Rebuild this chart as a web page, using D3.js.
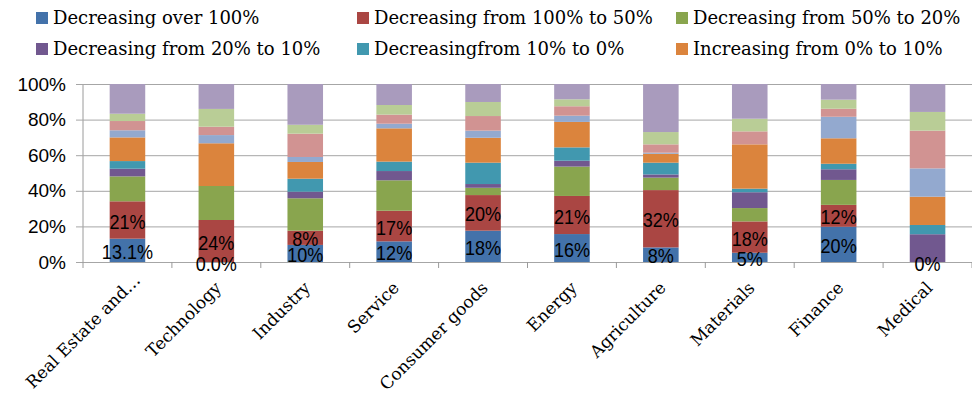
<!DOCTYPE html>
<html>
<head>
<meta charset="utf-8">
<script src="https://cdn.jsdelivr.net/npm/d3@7"></script>
<style>
  body { margin: 0; background: #fff; }
  svg { display: block; }
</style>
</head>
<body>
<div id="chart"></div>
<script>
const width = 972;
const height = 396;

const categories = ["Real Estate and\u2026", "Technology", "Industry", "Service", "Consumer goods",
    "Energy", "Agriculture", "Materials", "Finance", "Medical"];

const seriesNames = [
    "Decreasing over 100%",
    "Decreasing from 100% to 50%",
    "Decreasing from 50% to 20%",
    "Decreasing from 20% to 10%",
    "Decreasingfrom 10% to 0%",
    "Increasing from  0% to 10%",
    "Increasing from 10% to 20%",
    "Increasing from 20% to 50%",
    "Increasing from 50% to 100%",
    "Increasing over 100%"
];

// one array per series, one value per category (percent of companies)
const decOver100 = [13.1, 0, 9.6, 11.6, 17.6, 15.7, 8.2, 5.2, 19.8, 0];
const dec100to50 = [21, 23.6, 8, 17.2, 20, 21.4, 32.2, 17.6, 12.3, 0];
const dec50to20 = [14, 19.1, 18.2, 17.1, 4.1, 16.5, 7, 7.5, 14, 0];
const dec20to10 = [4.3, 0, 3.7, 5.2, 2.1, 3.3, 1.8, 8.9, 6, 15.6];
const dec10to0 = [4.3, 0, 7.3, 5.3, 12, 7.5, 6.6, 2, 3.1, 5.2];
const inc0to10 = [13.3, 24, 9.4, 18.7, 14, 14.3, 5, 24.9, 14.3, 15.9];
const inc10to20 = [4, 4.6, 2.8, 2.6, 4, 3.5, 0.6, 0, 12.1, 15.9];
const inc20to50 = [5.2, 4.7, 13.1, 5.1, 8.2, 5.3, 4.7, 7.3, 4.5, 21.2];
const inc50to100 = [4.1, 10, 5, 5.4, 7.9, 3.9, 6.9, 7.1, 5.1, 10.5];
const incOver100 = [16.7, 14, 22.9, 11.8, 10.1, 8.6, 27, 19.5, 8.8, 15.7];

const seriesValues = [decOver100, dec100to50, dec50to20, dec20to10, dec10to0,
    inc0to10, inc10to20, inc20to50, inc50to100, incOver100];

// data labels shown on the first two series
const labelsOver100 = ["13.1%", "0.0%", "10%", "12%", "18%", "16%", "8%", "5%", "20%", "0%"];
const labels100to50 = ["21%", "24%", "8%", "17%", "20%", "21%", "32%", "18%", "12%", ""];

const yTicks = [0, 20, 40, 60, 80, 100];

const colors = ["#4372AA", "#AA4643", "#89A54E", "#71588F", "#4198AF",
    "#DB843D", "#93A9CF", "#D19392", "#B9CD96", "#A99BBD"];

const legendCount = 6;

const margin = { top: 84, right: 0, bottom: 134, left: 83 };
const plotBottom = height - margin.bottom;

const rows = categories.map((c, i) => {
    const row = { category: c };
    seriesNames.forEach((s, j) => { row[s] = seriesValues[j][i]; });
    return row;
});

const stacked = d3.stack().keys(seriesNames)(rows);

const x = d3.scaleBand()
    .domain(categories)
    .range([margin.left, width])
    .paddingInner(0.6)
    .paddingOuter(0.3);

const y = d3.scaleLinear()
    .domain([0, 100])
    .range([plotBottom, margin.top]);

const svg = d3.select("#chart")
    .append("svg")
    .attr("width", width)
    .attr("height", height);

// gridlines + y axis
svg.append("g")
    .attr("transform", `translate(${margin.left},0)`)
    .call(d3.axisLeft(y)
        .tickValues(yTicks)
        .tickSize(-(width - margin.left))
        .tickPadding(17)
        .tickFormat(d => d + "%"))
    .call(g => g.select(".domain").attr("stroke", "#9a9a9a").attr("d", `M0,${margin.top}V${plotBottom}`))
    .call(g => g.selectAll(".tick line").attr("stroke", "#a6a6a6").attr("x1", -7))
    .call(g => g.selectAll(".tick text")
        .attr("fill", "#000")
        .style("font-family", "'Liberation Sans', Arial, sans-serif")
        .style("font-size", "19px"));

// category ticks on the x axis
const step = x.step();
const boundaries = d3.range(categories.length + 1).map(i => margin.left + i * step);
svg.append("g")
    .selectAll("line")
    .data(boundaries)
    .join("line")
    .attr("x1", d => d)
    .attr("x2", d => d)
    .attr("y1", plotBottom)
    .attr("y2", plotBottom + 6)
    .attr("stroke", "#9a9a9a");

// bars
svg.append("g")
    .selectAll("g")
    .data(stacked)
    .join("g")
    .attr("fill", (d, i) => colors[i])
    .selectAll("rect")
    .data(d => d)
    .join("rect")
    .attr("x", d => x(d.data.category))
    .attr("width", x.bandwidth())
    .attr("y", d => y(d[1]))
    .attr("height", d => y(d[0]) - y(d[1]));

// data labels (narrow, like the original's Calibri)
const labelSets = [labelsOver100, labels100to50];
labelSets.forEach((labels, j) => {
    svg.append("g")
        .selectAll("text")
        .data(stacked[j])
        .join("text")
        .attr("transform", d =>
            `translate(${x(d.data.category) + x.bandwidth() / 2},${y((d[0] + d[1]) / 2) + 1}) scale(0.86,1)`)
        .attr("dy", "0.36em")
        .attr("text-anchor", "middle")
        .style("font-family", "'Liberation Sans', Arial, sans-serif")
        .style("font-size", "21px")
        .attr("fill", "#000")
        .text((d, i) => labels[i]);
});

// rotated category labels; the baseline ends just right of the category centre,
// a label that would run off the left edge is slid up along its own direction
const minStartX = 33;
svg.append("g")
    .selectAll("text")
    .data(categories)
    .join("text")
    .attr("text-anchor", "end")
    .style("font-family", "'DejaVu Serif', serif")
    .style("font-size", "17px")
    .attr("fill", "#000")
    .text(d => d)
    .each(function (d) {
        let ex = x(d) + x.bandwidth() / 2 + 6;
        let ey = plotBottom + 27;
        const run = this.getComputedTextLength() * Math.SQRT1_2;
        const over = minStartX - (ex - run);
        if (over > 0) {
            ex += over;
            ey -= over;
        }
        d3.select(this).attr("transform", `translate(${ex},${ey}) rotate(-45)`);
    });

// legend (first six series)
const legendX = [36, 357, 676];
const legendY = [18, 49];
const legend = svg.append("g")
    .selectAll("g")
    .data(seriesNames.slice(0, legendCount))
    .join("g")
    .attr("transform", (d, i) => `translate(${legendX[i % 3]},${legendY[Math.floor(i / 3)]})`);

legend.append("rect")
    .attr("x", 0)
    .attr("y", -6)
    .attr("width", 12)
    .attr("height", 12)
    .attr("fill", (d, i) => colors[i]);

legend.append("text")
    .attr("x", 17)
    .attr("dy", "0.36em")
    .style("font-family", "'DejaVu Serif', serif")
    .style("font-size", "18px")
    .attr("fill", "#000")
    .text(d => d);
</script>
</body>
</html>
